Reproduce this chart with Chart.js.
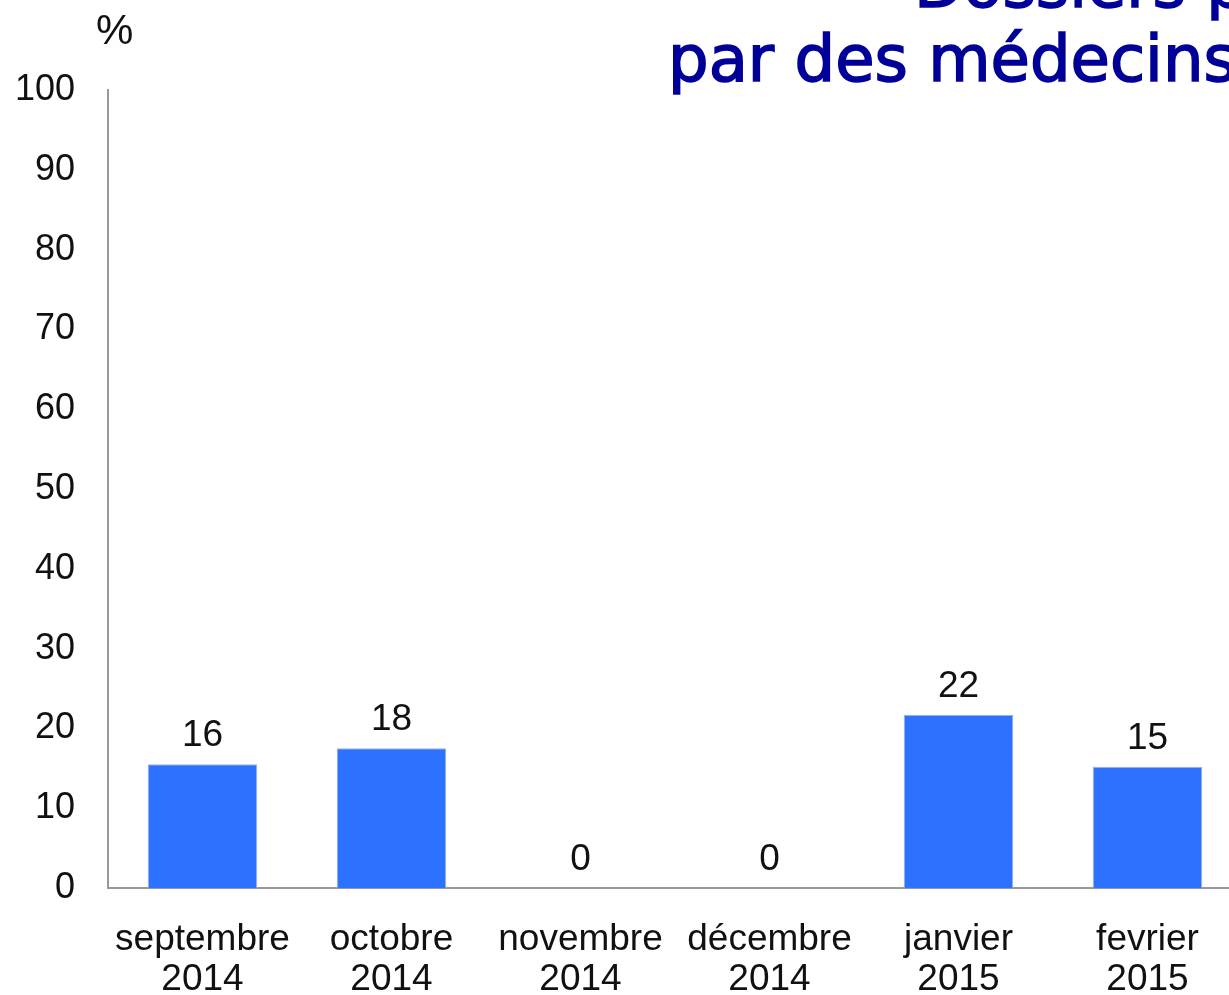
<!DOCTYPE html>
<html>
<head>
<meta charset="utf-8">
<script src="https://cdn.jsdelivr.net/npm/chart.js@4"></script>
<style>
  html, body { margin: 0; padding: 0; background: #fff; overflow: hidden; width: 1229px; height: 995px; }
  #wrap { position: absolute; left: 0; top: 0; width: 1250px; height: 995px; }
  .title { position: absolute; color: #000099; font-family: "DejaVu Sans", sans-serif; font-size: 64px; -webkit-text-stroke: 1.6px #000099; white-space: nowrap; line-height: 1; }
  #t1 { left: 914px; top: -47px; }
  #t2 { left: 668px; top: 27px; }
  #unit { position: absolute; left: 96px; top: 6px; font-family: "Liberation Sans", Arial, sans-serif; font-size: 42px; color: #111; }
</style>
</head>
<body>
<div id="wrap"><canvas id="chart"></canvas></div>
<div class="title" id="t1">Dossiers p</div>
<div class="title" id="t2">par des médecins</div>
<div id="unit">%</div>
<script>
// ---------- Data ----------
const months = [
  ["septembre", "2014"],
  ["octobre", "2014"],
  ["novembre", "2014"],
  ["décembre", "2014"],
  ["janvier", "2015"],
  ["fevrier", "2015"]
];
const percents = [15.5, 17.5, 0, 0, 21.7, 15.2];
const yTicks = [0, 10, 20, 30, 40, 50, 60, 70, 80, 90, 100];

const FONT = '"Liberation Sans", Arial, sans-serif';

// ---------- Value labels above bars ----------
const valueLabels = {
  id: "valueLabels",
  afterDatasetsDraw(chart) {
    const ctx = chart.ctx;
    const meta = chart.getDatasetMeta(0);
    ctx.save();
    ctx.font = "37px " + FONT;
    ctx.fillStyle = "#111";
    ctx.textAlign = "center";
    ctx.textBaseline = "alphabetic";
    meta.data.forEach((bar, i) => {
      ctx.fillText(Math.round(percents[i]).toString(), bar.x, bar.y - 18);
    });
    ctx.restore();
  }
};

new Chart(document.getElementById("chart"), {
  type: "bar",
  data: {
    labels: months,
    datasets: [{
      data: percents,
      backgroundColor: "#2d72ff",
      borderColor: "#a9b4c8",
      borderWidth: 1,
      barPercentage: 0.58,
      categoryPercentage: 1
    }]
  },
  options: {
    responsive: true,
    maintainAspectRatio: false,
    animation: false,
    layout: { padding: { top: 90, right: 8, left: 0, bottom: 0 } },
    plugins: {
      legend: { display: false },
      tooltip: { enabled: false }
    },
    scales: {
      x: {
        grid: { display: false },
        border: { display: true, color: "#999", width: 2 },
        ticks: {
          color: "#111",
          padding: 23,
          maxRotation: 0,
          autoSkip: false,
          font: { family: FONT, size: 37, lineHeight: 1.1 }
        },
        afterFit: s => { s.height = 107; }
      },
      y: {
        min: 0,
        max: 100,
        afterBuildTicks: s => { s.ticks = yTicks.map(v => ({ value: v })); },
        grid: { display: false },
        border: { display: true, color: "#999", width: 2 },
        ticks: {
          color: "#111",
          padding: 25,
          font: { family: FONT, size: 36 }
        },
        afterFit: s => { s.width = 108; }
      }
    }
  },
  plugins: [valueLabels]
});
</script>
</body>
</html>
